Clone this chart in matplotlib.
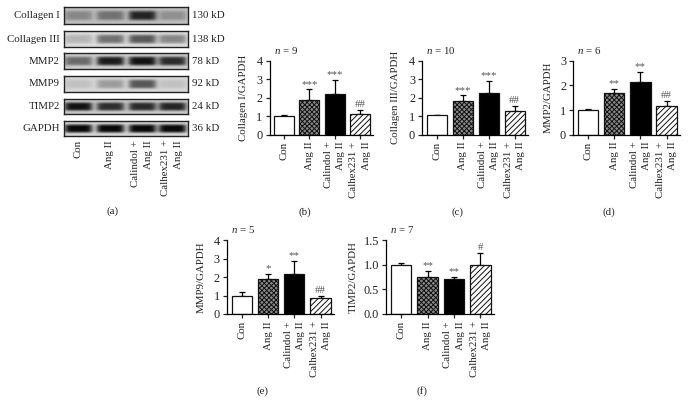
import matplotlib
matplotlib.use("Agg")
import matplotlib.pyplot as plt
import numpy as np

plt.rcParams['font.family'] = ['Liberation Serif', 'DejaVu Serif']
plt.rcParams['mathtext.fontset'] = 'custom'
plt.rcParams['mathtext.it'] = 'Liberation Serif:italic'
plt.rcParams['mathtext.rm'] = 'Liberation Serif'
plt.rcParams['hatch.linewidth'] = 0.7

W, H = 688, 413
TXT = '#222222'
FS = 7.8
LS = 1.5

# bar charts
groups = ["Con", "Ang II", "Calindol +\nAng II", "Calhex231 +\nAng II"]

col1_mean = [1.03, 1.86, 2.18, 1.10]
col1_top = [1.07, 2.45, 2.95, 1.33]
col1_marks = ["", "***", "***", "##"]

col3_mean = [1.04, 1.80, 2.27, 1.26]
col3_top = [1.08, 2.12, 2.90, 1.53]
col3_marks = ["", "***", "***", "##"]

mmp2_mean = [1.00, 1.68, 2.14, 1.18]
mmp2_top = [1.04, 1.85, 2.53, 1.35]
mmp2_marks = ["", "**", "**", "##"]

mmp9_mean = [0.99, 1.87, 2.16, 0.86]
mmp9_top = [1.19, 2.16, 2.86, 0.97]
mmp9_marks = ["", "*", "**", "##"]

timp_mean = [1.00, 0.75, 0.70, 1.00]
timp_top = [1.04, 0.87, 0.76, 1.23]
timp_marks = ["", "**", "**", "#"]

# western blot
blot_names = ["Collagen I", "Collagen III", "MMP2", "MMP9", "TIMP2", "GAPDH"]
blot_sizes = ["130 kD", "138 kD", "78 kD", "92 kD", "24 kD", "36 kD"]
blot_bg = [0.74, 0.86, 0.80, 0.84, 0.78, 0.84]
blot_dark = [
    [0.30, 0.42, 0.85, 0.25],
    [0.18, 0.50, 0.62, 0.40],
    [0.50, 0.90, 0.95, 0.82],
    [0.10, 0.28, 0.62, 0.10],
    [0.95, 0.80, 0.82, 0.85],
    [1.00, 1.00, 1.00, 1.00],
]
blot_rows = [(7, 24), (31, 47), (53, 69), (76, 92), (99, 114), (121, 136)]
lane_x = [78, 110, 142, 172]


def box(left, right, top, bottom):
    return [left / W, 1 - bottom / H, (right - left) / W, (bottom - top) / H]


def label(x, y, s, **kw):
    kw.setdefault('fontsize', FS)
    kw.setdefault('color', TXT)
    kw.setdefault('ha', 'center')
    kw.setdefault('va', 'center')
    fig.text(x / W, 1 - y / H, s, **kw)


def bar_panel(left, right, top, bottom, means, tops, marks, ymax, yticks, ylab, ylab_x, n, letter):
    ax = fig.add_axes(box(left, right, top, bottom))
    step = 25.3
    x = np.arange(4)
    face = ['white', '#8a8a8a', 'black', 'white']
    hatch = [None, 'xxxxxxx', None, '//////']
    ax.errorbar(x, means, yerr=[np.zeros(4), np.array(tops) - np.array(means)], fmt='none',
                ecolor='black', elinewidth=0.9, capsize=2.2, capthick=0.9, zorder=1)
    for i in x:
        ax.bar(i, means[i], width=0.78, facecolor=face[i], edgecolor='#111111',
               hatch=hatch[i], linewidth=0.9, zorder=2)
        if marks[i]:
            off = 0.5 if '*' in marks[i] else 1.0
            ax.annotate(marks[i], (i, tops[i]), xytext=(0, off), textcoords='offset points',
                        ha='center', va='bottom', fontsize=FS, color='#555555')
    ax.set_xlim(-14.5 / step, 3 + 13 / step)
    ax.set_ylim(0, ymax)
    ax.set_yticks(yticks)
    if ymax == 1.5:
        ax.set_yticklabels(["0.0", "0.5", "1.0", "1.5"])
    ax.set_xticks(x)
    ax.set_xticklabels(groups, rotation=90, ha='center', va='top', ma='right', linespacing=LS)
    ax.tick_params(axis='both', labelsize=FS + 1, width=0.9, length=3, pad=2, colors=TXT)
    ax.tick_params(axis='x', labelsize=FS)
    ax.patch.set_alpha(0)
    for side in ['top', 'right']:
        ax.spines[side].set_visible(False)
    for side in ['left', 'bottom']:
        ax.spines[side].set_linewidth(0.9)
    label(ylab_x, (top + bottom) / 2, ylab, rotation=90)
    label(left + 4, top - 10.5, r"$\mathit{n}$ = " + str(n), ha='left')
    label(left + 35.5, bottom + 77, letter)


fig = plt.figure(figsize=(W / 100, H / 100), dpi=100)

# blot strips, one image per protein
px = np.arange(64, 188)
for k, name in enumerate(blot_names):
    y0, y1 = blot_rows[k]
    py = np.linspace(-1, 1, y1 - y0)
    img = np.full((y1 - y0, 124), blot_bg[k])
    for c, d in zip(lane_x, blot_dark[k]):
        band = np.exp(-((px - c) / 14.0) ** 6)[None, :] * np.exp(-(py / 0.6) ** 4)[:, None]
        img = img - d * band * (blot_bg[k] - 0.03)
    ax = fig.add_axes(box(64, 188, y0, y1))
    ax.imshow(img, cmap='gray', vmin=0, vmax=1, aspect='auto', interpolation='bilinear')
    ax.set_xticks([])
    ax.set_yticks([])
    for s in ax.spines.values():
        s.set_linewidth(1.0)
        s.set_color('#222222')
    label(60, (y0 + y1) / 2, name, ha='right')
    label(192, (y0 + y1) / 2, blot_sizes[k], ha='left')

for c, g in zip(lane_x, groups):
    label(c, 140, g, rotation=90, va='top', ma='right', linespacing=LS)
label(113, 211, "(a)")

bar_panel(269.5, 373, 60.7, 134.7, col1_mean, col1_top, col1_marks, 4, [0, 1, 2, 3, 4],
          "Collagen I/GAPDH", 243, 9, "(b)")
bar_panel(422, 528, 60.7, 134.7, col3_mean, col3_top, col3_marks, 4, [0, 1, 2, 3, 4],
          "Collagen III/GAPDH", 396, 10, "(c)")
bar_panel(573, 680, 60.7, 134.7, mmp2_mean, mmp2_top, mmp2_marks, 3, [0, 1, 2, 3],
          "MMP2/GAPDH", 548, 6, "(d)")
bar_panel(226.7, 334, 240, 314, mmp9_mean, mmp9_top, mmp9_marks, 4, [0, 1, 2, 3, 4],
          "MMP9/GAPDH", 201, 5, "(e)")
bar_panel(386, 494, 240, 314, timp_mean, timp_top, timp_marks, 1.5, [0, 0.5, 1.0, 1.5],
          "TIMP2/GAPDH", 353, 7, "(f)")

fig.savefig("out.png", dpi=100)
